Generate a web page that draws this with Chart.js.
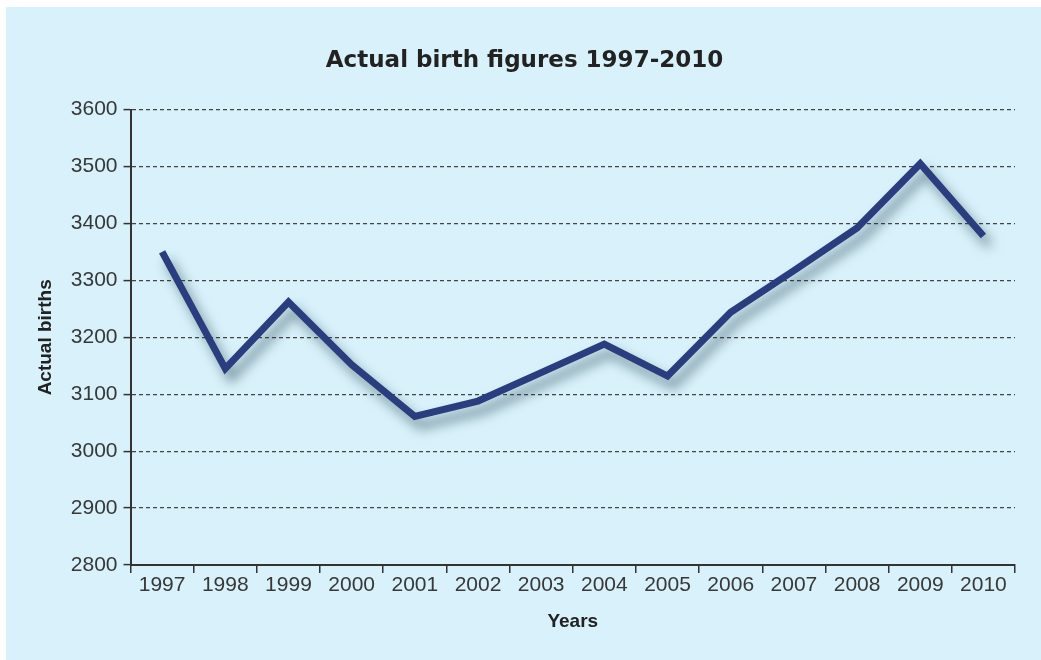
<!DOCTYPE html>
<html>
<head>
<meta charset="utf-8">
<script src="https://cdn.jsdelivr.net/npm/chart.js@4"></script>
<style>
    html, body { margin: 0; padding: 0; background: #ffffff; overflow: hidden; }
    #panel { position: absolute; left: 6px; top: 7px; width: 1035px; height: 653px; background: #d8f1fa; }
    #wrap { position: absolute; left: 0; top: 0; width: 1041px; height: 660px; }
</style>
</head>
<body>
<div id="panel"></div>
<div id="wrap"><canvas id="birthChart"></canvas></div>
<script>
const years = ['1997', '1998', '1999', '2000', '2001', '2002', '2003', '2004', '2005', '2006', '2007', '2008', '2009', '2010'];
const births = [3350, 3145, 3262, 3152, 3061, 3088, 3138, 3188, 3132, 3244, 3317, 3392, 3505, 3378];
const yTicks = [2800, 2900, 3000, 3100, 3200, 3300, 3400, 3500, 3600];

const textColor = '#383838';
const fontFamily = '"Liberation Sans", Arial, Helvetica, sans-serif';

// soft drop shadow under the line
const lineShadow = {
    id: 'lineShadow',
    beforeDatasetsDraw(chart) {
        const ctx = chart.ctx;
        ctx.save();
        ctx.shadowColor = 'rgba(20, 55, 70, 0.55)';
        ctx.shadowBlur = 12;
        ctx.shadowOffsetX = 6;
        ctx.shadowOffsetY = 9;
    },
    afterDatasetsDraw(chart) {
        chart.ctx.restore();
    }
};

function createChart() {
    const ctx = document.getElementById('birthChart').getContext('2d');
    new Chart(ctx, {
        type: 'line',
        data: {
            labels: years,
            datasets: [{
                label: 'Actual births',
                data: births,
                borderColor: '#2a3d7e',
                borderWidth: 7,
                borderJoinStyle: 'miter',
                pointRadius: 0,
                tension: 0,
                fill: false
            }]
        },
        plugins: [lineShadow],
        options: {
            responsive: true,
            maintainAspectRatio: false,
            animation: false,
            layout: {
                padding: { left: 34, right: 26, top: 47, bottom: 27 }
            },
            plugins: {
                legend: { display: false },
                tooltip: { enabled: false },
                title: {
                    display: true,
                    text: 'Actual birth figures 1997-2010',
                    color: '#222222',
                    fullSize: true,
                    font: { family: '"DejaVu Sans", sans-serif', size: 23, weight: 'bold' },
                    padding: { top: 0, bottom: 35 }
                }
            },
            scales: {
                x: {
                    offset: true,
                    grid: {
                        offset: true,
                        drawOnChartArea: false,
                        drawTicks: true,
                        tickLength: 8,
                        color: '#333333',
                        lineWidth: 1.5
                    },
                    border: { display: true, color: '#333333', width: 2 },
                    ticks: {
                        color: textColor,
                        font: { family: fontFamily, size: 21 },
                        padding: 0,
                        maxRotation: 0
                    },
                    title: {
                        display: true,
                        text: 'Years',
                        color: '#222222',
                        font: { family: fontFamily, size: 19, weight: 'bold' },
                        padding: { top: 12, bottom: 0 }
                    }
                },
                y: {
                    min: yTicks[0],
                    max: yTicks[yTicks.length - 1],
                    afterBuildTicks(scale) {
                        scale.ticks = yTicks.map(v => ({ value: v }));
                    },
                    grid: {
                        color: '#444444',
                        lineWidth: 1.2,
                        tickLength: 7,
                        tickColor: '#333333',
                        tickWidth: 1.5,
                        tickBorderDash: []
                    },
                    border: { display: true, color: '#333333', width: 2, dash: [4, 3] },
                    ticks: {
                        color: textColor,
                        font: { family: fontFamily, size: 21 },
                        padding: 6,
                        callback: value => String(value)
                    },
                    title: {
                        display: true,
                        text: 'Actual births',
                        color: '#222222',
                        font: { family: fontFamily, size: 19, weight: 'bold' },
                        padding: { top: 0, bottom: 8 }
                    }
                }
            }
        }
    });
}

createChart();
</script>
</body>
</html>
